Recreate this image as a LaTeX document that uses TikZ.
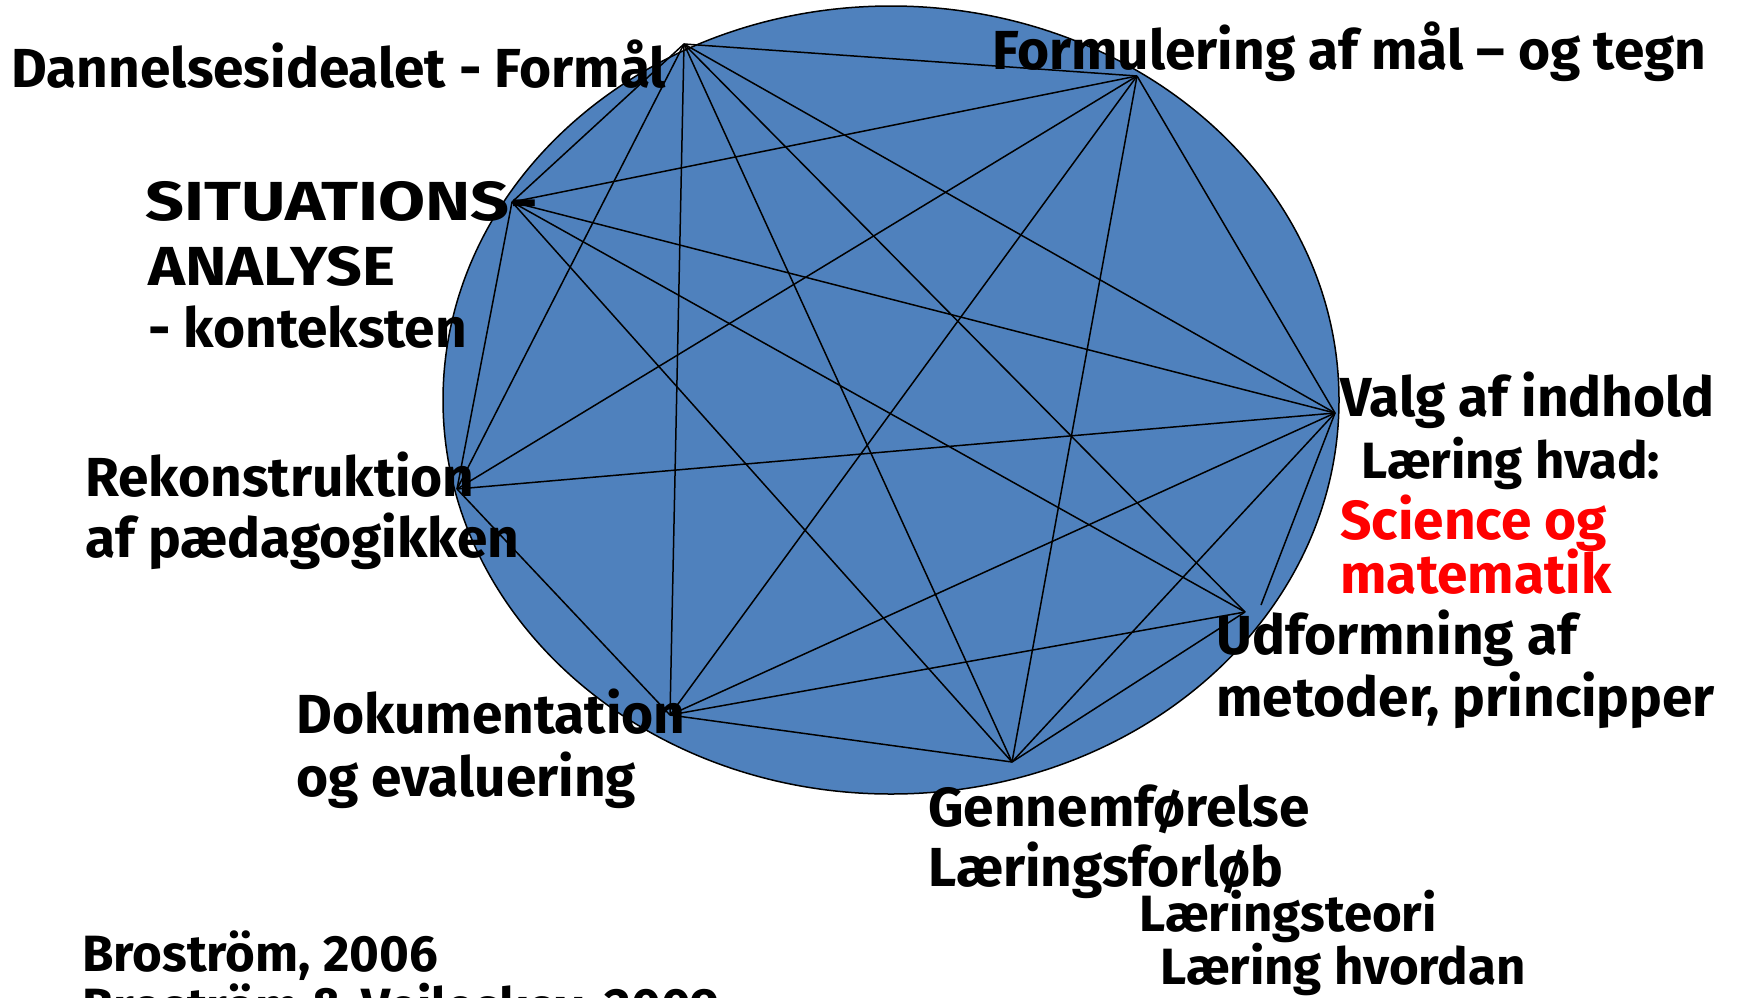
\documentclass[tikz,border=0pt]{standalone}
\usepackage{fontspec}
\setmainfont{Fira Sans}
\definecolor{discBlue}{RGB}{79,129,189}
\definecolor{redText}{RGB}{255,0,0}

\begin{document}
\begin{tikzpicture}[x=0.5pt,y=0.5pt,yscale=-1,xscale=1,
  lbl/.style={anchor=base west,inner sep=0pt,font=\fontsize{27.5}{32}\selectfont\bfseries},
  small lbl/.style={lbl,font=\fontsize{25.5}{30}\selectfont\bfseries},
  link/.style={line width=0.75pt}]
\useasboundingbox (0,0) rectangle (1754,997);

%Shape: Ellipse
\draw [fill=discBlue,line width=0.75pt] (891,400) ellipse [x radius=448,y radius=394];

% Corners
\coordinate (formaal) at (684,44);
\coordinate (maal) at (1137,76);
\coordinate (situation) at (512,202);
\coordinate (indhold) at (1335,413);
\coordinate (rekon) at (457,489);
\coordinate (metode) at (1245,612);
\coordinate (metodeB) at (1261,605);
\coordinate (doku) at (670,715);
\coordinate (gennem) at (1012,762);

% Connections
\foreach \a/\b in {formaal/maal,formaal/situation,formaal/indhold,formaal/rekon,
    formaal/metode,formaal/doku,formaal/gennem,
    maal/situation,maal/indhold,maal/rekon,maal/doku,maal/gennem,
    situation/indhold,situation/rekon,situation/metode,situation/gennem,
    indhold/rekon,indhold/metodeB,indhold/doku,indhold/gennem,
    metode/doku,metode/gennem,
    rekon/doku,doku/gennem}
  \draw [link] (\a) -- (\b);

% Text Node
\node [lbl] (dannelse) at (11,87) {Dannelsesidealet - Formål};
% Text Node
\node [lbl] (formul) at (992,69) {Formulering af mål – og tegn};
% Text Node
\node [lbl] (sit1) at (145,220) {\scalebox{1.24}[1]{SITUATIONS-}};
\node [lbl] (sit2) at (148,285) {\scalebox{1.14}[1]{ANALYSE}};
\node [lbl] (sit3) at (148,347) {- konteksten};
% Text Node
\node [lbl] (valg) at (1340,416) {Valg af indhold};
\node [small lbl] (hvad) at (1361,478) {Læring hvad:};
\node [lbl,text=redText] (science) at (1340,539) {Science og};
\node [lbl,text=redText] (mat) at (1340,593) {matematik};
% Text Node
\node [lbl] (rek1) at (85,496) {Rekonstruktion};
\node [lbl] (rek2) at (85,557) {af pædagogikken};
% Text Node
\node [lbl] (udf1) at (1216,654) {Udformning af};
\node [lbl] (udf2) at (1216,716) {metoder, principper};
% Text Node
\node [lbl] (dok1) at (296,733) {Dokumentation};
\node [lbl] (dok2) at (296,796) {og evaluering};
% Text Node
\node [lbl] (gen1) at (928,826) {Gennemførelse};
\node [lbl] (gen2) at (928,886) {Læringsforløb};
\node [small lbl] (teori) at (1139,931) {Læringsteori};
\node [small lbl] (hvordan) at (1160,984) {Læring hvordan};
% Text Node
\node [small lbl] (kilde1) at (82,971) {Broström, 2006};
\begin{scope}
\clip (0,0) rectangle (1754,997);
\node [small lbl] (kilde2) at (82,1024) {Broström \& Vejleskov, 2009};
\end{scope}

\end{tikzpicture}
\end{document}
